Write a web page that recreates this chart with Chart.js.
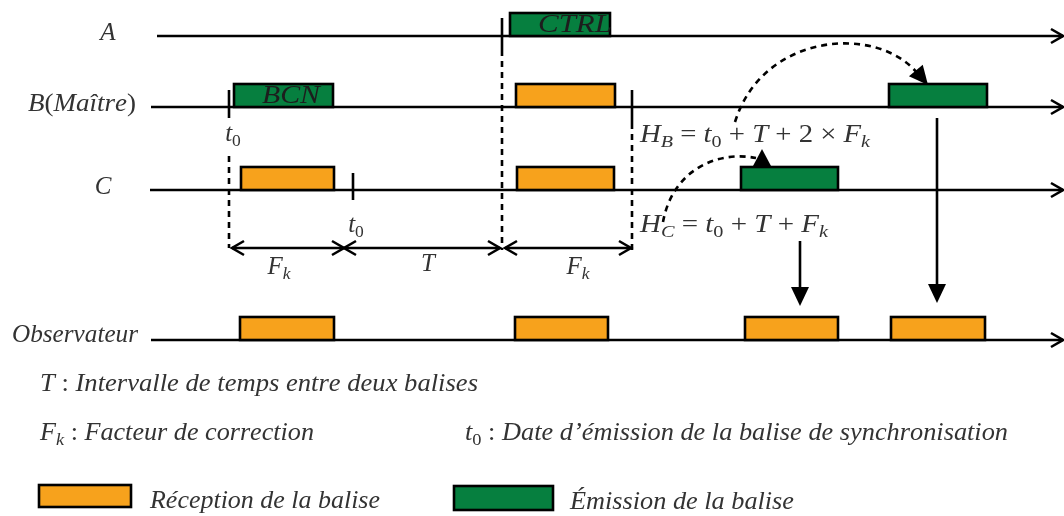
<!DOCTYPE html>
<html>
<head>
<meta charset="utf-8">
<script src="https://cdn.jsdelivr.net/npm/chart.js@4/dist/chart.umd.min.js"></script>
<style>
  html, body { margin: 0; padding: 0; background: #fff; }
</style>
</head>
<body>
<canvas id="schema" width="1064" height="516"></canvas>
<script>
// Schéma de synchronisation par balises (A, B maître, C, observateur).
// Axe x = temps (unités du schéma), axe y = lignes. Tout passe par les échelles Chart.js.

// ── Données ────────────────────────────────────────────────────────────────
const LIGNES = ['A', 'B(Maître)', 'C', 'Observateur'];
const LIGNES_Y = [36, 107, 190, 340];
const LIGNES_DEBUT = [157, 151, 150, 151];
const LIGNES_FIN = 1063;

// balises : ligne, début, fin, type (R = réception, E = émission), nom
const BAL_LIGNE = [0, 1, 1, 1, 2, 2, 2, 3, 3, 3, 3];
const BAL_DEBUT = [510, 234, 516, 889, 241, 517, 741, 240, 515, 745, 891];
const BAL_FIN   = [610, 333, 615, 987, 334, 614, 838, 334, 608, 838, 985];
const BAL_TYPE  = ['E', 'E', 'R', 'E', 'R', 'R', 'E', 'R', 'R', 'R', 'R'];
const BAL_NOM   = ['CTRL', 'BCN', '', '', '', '', '', '', '', '', ''];

// repères t0 (traits pleins) : x, haut, bas
const REPERES = [[229, 90, 118], [353, 173, 200], [502, 18, 50], [632, 90, 123]];
// pointillés verticaux : x, haut, bas
const POINTILLES = [[229, 156, 248], [502, 50, 250], [632, 123, 250]];
// intervalles Fk, T, Fk (double flèche) : début, fin
const INTERVALLES = [[232, 344], [344, 500], [505, 631]];
const INTERVALLES_Y = 248;
// flèches de retransmission vers l'observateur : x, haut, pointe
const DESCENTES = [[800, 241, 306], [937, 118, 303]];

// ── Couleurs ───────────────────────────────────────────────────────────────
const ORANGE = '#F7A21C';
const VERT = '#067F3F';
const ENCRE = '#333333';
const SERIF = '"Liberation Serif"';

// ── Textes (position, alignement, largeur cible éventuelle) ────────────────
const TEXTES = [
  ['A', 108, 33, 'center'],
  ['B(Maître)', 82, 104, 'center', 108],
  ['C', 103, 187, 'center'],
  ['Observateur', 75, 335, 'center', 126],
  ['t_{0}', 233, 134, 'center'],
  ['t_{0}', 356, 225, 'center'],
  ['F_{k}', 279, 267, 'center'],
  ['T', 428, 264, 'center'],
  ['F_{k}', 578, 267, 'center'],
  ['H_{B} = t_{0} + T + 2 × F_{k}', 640, 135, 'left', 230],
  ['H_{C} = t_{0} + T + F_{k}', 640, 225, 'left', 188],
  ['T : Intervalle de temps entre deux balises', 40, 384, 'left', 438],
  ['F_{k} : Facteur de correction', 40, 433, 'left', 274],
  ['t_{0} : Date d’émission de la balise de synchronisation', 465, 433, 'left', 543],
  ['Réception de la balise', 150, 501, 'left', 230],
  ['Émission de la balise', 570, 502, 'left', 224],
];

// ── Rendu du texte « mathématique » (italique + indices) ───────────────────
function segments(str) {
  const out = [];
  const re = /_\{([^}]*)\}/g;
  let last = 0, m;
  while ((m = re.exec(str))) {
    if (m.index > last) out.push({ t: str.slice(last, m.index), sub: false });
    out.push({ t: m[1], sub: true });
    last = re.lastIndex;
  }
  if (last < str.length) out.push({ t: str.slice(last), sub: false });
  return out;
}
function police(ch, taille) {
  const droit = /[0-9=+×():]/.test(ch);
  return `${droit ? '' : 'italic '}${taille}px ${SERIF}`;
}
function largeur(ctx, segs, taille) {
  let w = 0;
  segs.forEach(s => {
    const tl = s.sub ? taille * 0.7 : taille;
    for (const ch of s.t) { ctx.font = police(ch, tl); w += ctx.measureText(ch).width; }
  });
  return w;
}
function ecrire(ctx, str, x, y, align, cible, taille) {
  const segs = segments(str);
  const w = largeur(ctx, segs, taille);
  const k = cible ? cible / w : 1;
  const wk = w * k;
  let x0 = align === 'center' ? x - wk / 2 : x;
  ctx.save();
  ctx.translate(x0, y);
  ctx.scale(k, 1);
  ctx.fillStyle = ENCRE;
  ctx.textBaseline = 'middle';
  ctx.textAlign = 'left';
  let cx = 0;
  segs.forEach(s => {
    const tl = s.sub ? taille * 0.7 : taille;
    const dy = s.sub ? taille * 0.28 : 0;
    for (const ch of s.t) {
      ctx.font = police(ch, tl);
      ctx.fillText(ch, cx, dy);
      cx += ctx.measureText(ch).width;
    }
  });
  ctx.restore();
}

// ── Petites primitives ─────────────────────────────────────────────────────
function chevron(ctx, x, y, dir) { // flèche ouverte horizontale
  ctx.beginPath();
  ctx.moveTo(x - dir * 12, y - 7);
  ctx.lineTo(x, y);
  ctx.lineTo(x - dir * 12, y + 7);
  ctx.stroke();
}
function pointe(ctx, x, y, ux, uy, long, demi) { // flèche pleine, pointe en (x,y), direction (ux,uy)
  const n = Math.hypot(ux, uy); ux /= n; uy /= n;
  const bx = x - ux * long, by = y - uy * long;
  ctx.beginPath();
  ctx.moveTo(x, y);
  ctx.lineTo(bx - uy * demi, by + ux * demi);
  ctx.lineTo(bx + uy * demi, by - ux * demi);
  ctx.closePath();
  ctx.fill();
}

const schemaPlugin = {
  id: 'schema',
  afterDatasetsDraw(chart) {
    const { ctx } = chart;
    const X = v => chart.scales.x.getPixelForValue(v);
    const Y = v => chart.scales.y.getPixelForValue(v);
    ctx.save();
    ctx.strokeStyle = '#000';
    ctx.fillStyle = '#000';
    ctx.lineWidth = 2.6;
    ctx.lineCap = 'butt';

    // flèches ouvertes en bout de ligne
    LIGNES_Y.forEach(y => chevron(ctx, X(LIGNES_FIN), Y(y), 1));

    // balises
    BAL_LIGNE.forEach((l, i) => {
      const x0 = X(BAL_DEBUT[i]), x1 = X(BAL_FIN[i]);
      const yb = Y(LIGNES_Y[l]), yh = Y(LIGNES_Y[l] - 23);
      ctx.fillStyle = BAL_TYPE[i] === 'E' ? VERT : ORANGE;
      ctx.fillRect(x0, yh, x1 - x0, yb - yh);
      ctx.strokeRect(x0, yh, x1 - x0, yb - yh);
      if (BAL_NOM[i]) {
        ctx.save();
        ctx.fillStyle = '#1d1d1d';
        ctx.font = `italic 25px ${SERIF}`;
        ctx.textBaseline = 'middle';
        ctx.textAlign = 'left';
        const wNom = ctx.measureText(BAL_NOM[i]).width;
        const cible = BAL_NOM[i] === 'CTRL' ? 74 : 58;
        ctx.translate(x0 + 28, (yb + yh) / 2 + 1);
        ctx.scale(cible / wNom, 1);
        ctx.fillText(BAL_NOM[i], 0, 0);
        ctx.restore();
      }
    });
    ctx.fillStyle = '#000';

    // repères t0
    REPERES.forEach(([x, a, b]) => {
      ctx.beginPath(); ctx.moveTo(X(x), Y(a)); ctx.lineTo(X(x), Y(b)); ctx.stroke();
    });
    // pointillés
    ctx.setLineDash([6, 5]);
    POINTILLES.forEach(([x, a, b]) => {
      ctx.beginPath(); ctx.moveTo(X(x), Y(a)); ctx.lineTo(X(x), Y(b)); ctx.stroke();
    });
    // courbes pointillées de B vers B et de B vers C
    ctx.beginPath();
    ctx.moveTo(X(735), Y(122));
    ctx.bezierCurveTo(X(763), Y(32), X(878), Y(24), X(918), Y(74));
    ctx.stroke();
    ctx.beginPath();
    ctx.moveTo(X(663), Y(222));
    ctx.bezierCurveTo(X(672), Y(172), X(715), Y(150), X(756), Y(158));
    ctx.stroke();
    ctx.setLineDash([]);
    pointe(ctx, X(928), Y(85), 40, 48, 19, 9);
    pointe(ctx, X(762), Y(149), 0, -1, 17, 9);

    // intervalles Fk / T / Fk
    INTERVALLES.forEach(([a, b]) => {
      const y = Y(INTERVALLES_Y);
      ctx.beginPath(); ctx.moveTo(X(a), y); ctx.lineTo(X(b), y); ctx.stroke();
      chevron(ctx, X(a), y, -1);
      chevron(ctx, X(b), y, 1);
    });

    // descentes vers l'observateur
    DESCENTES.forEach(([x, a, b]) => {
      ctx.beginPath(); ctx.moveTo(X(x), Y(a)); ctx.lineTo(X(x), Y(b) - 10); ctx.stroke();
      pointe(ctx, X(x), Y(b), 0, 1, 19, 9);
    });

    // légende
    [[39, 131, 485, 507, ORANGE], [454, 553, 486, 510, VERT]].forEach(([a, b, h, bas, c]) => {
      ctx.fillStyle = c;
      ctx.fillRect(X(a), Y(h), X(b) - X(a), Y(bas) - Y(h));
      ctx.strokeRect(X(a), Y(h), X(b) - X(a), Y(bas) - Y(h));
    });

    // textes
    TEXTES.forEach(([t, x, y, align, cible]) => ecrire(ctx, t, X(x), Y(y), align, cible, 25));
    ctx.restore();
  }
};

new Chart(document.getElementById('schema'), {
  type: 'scatter',
  data: {
    datasets: LIGNES.map((nom, i) => ({
      label: nom,
      data: [{ x: LIGNES_DEBUT[i], y: LIGNES_Y[i] }, { x: LIGNES_FIN, y: LIGNES_Y[i] }],
      showLine: true,
      borderColor: '#000',
      borderWidth: 2.6,
      pointRadius: 0,
      fill: false,
    })),
  },
  options: {
    responsive: false,
    animation: false,
    devicePixelRatio: 1,
    layout: { padding: 0 },
    plugins: { legend: { display: false }, tooltip: { enabled: false } },
    scales: {
      x: { type: 'linear', min: 0, max: 1064, display: false },
      y: { type: 'linear', min: 0, max: 516, reverse: true, display: false },
    },
  },
  plugins: [schemaPlugin],
});
</script>
</body>
</html>
